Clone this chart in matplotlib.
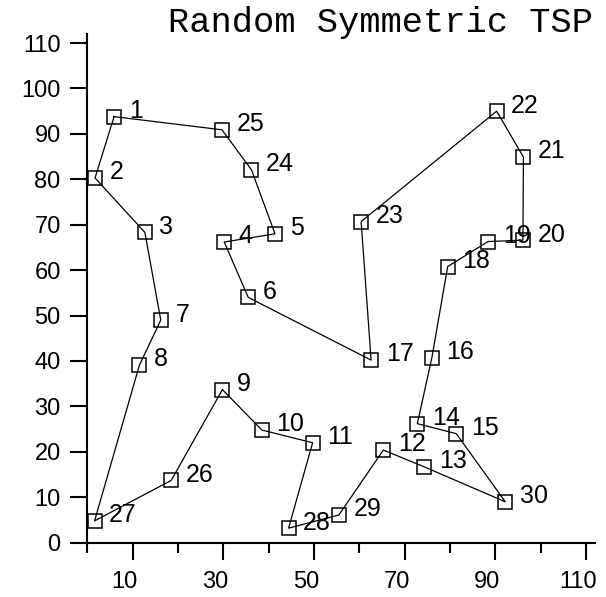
#!/usr/bin/env python3
"""Random symmetric TSP tour plot."""

import matplotlib
matplotlib.use('Agg')
import matplotlib.pyplot as plt
from matplotlib.transforms import ScaledTranslation

# city coordinates, city n is at index n-1
city_x = [5.9, 1.7, 12.7, 30.2, 41.4, 35.5, 16.2, 11.5, 29.8, 38.5,
          49.7, 65.3, 74.3, 72.8, 81.4, 76.0, 62.6, 79.5, 88.4, 96.1,
          96.2, 90.3, 60.4, 36.2, 29.7, 18.5, 1.6, 44.4, 55.5, 92.2]
city_y = [93.8, 80.3, 68.3, 66.2, 68.0, 54.0, 49.0, 39.1, 33.7, 24.8,
          22.0, 20.4, 16.7, 26.2, 24.0, 40.7, 40.2, 60.8, 66.3, 66.6,
          84.9, 95.0, 70.7, 82.1, 90.9, 13.7, 4.8, 3.2, 6.1, 9.0]

# visiting order of the tour
tour = [1, 25, 24, 5, 4, 6, 17, 23, 22, 21, 20, 19, 18, 16, 14, 15,
        30, 13, 12, 29, 28, 11, 10, 9, 26, 27, 8, 7, 3, 2, 1]

x_major = [10, 30, 50, 70, 90, 110]
x_minor = [0, 20, 40, 60, 80, 100]
y_ticks = [0, 10, 20, 30, 40, 50, 60, 70, 80, 90, 100, 110]

title = 'Random Symmetric TSP'


def main():
    fig = plt.figure(figsize=(6.06, 5.97), dpi=100)
    ax = fig.add_axes([0.1441, 0.0910, 0.8378, 0.8521])

    tx = [city_x[c - 1] for c in tour]
    ty = [city_y[c - 1] for c in tour]
    ax.plot(tx, ty, color='black', lw=0.9, clip_on=False, zorder=2)
    ax.plot(city_x, city_y, ls='none', marker='s', ms=10, mfc='none',
            mec='black', mew=1.1, clip_on=False, zorder=3)

    for i, (x, y) in enumerate(zip(city_x, city_y)):
        ax.annotate(str(i + 1), (x, y), xytext=(10.5, -1),
                    textcoords='offset points', ha='left', va='baseline',
                    fontsize=18, family='Liberation Sans', zorder=4,
                    annotation_clip=False)

    ax.set_xlim(0, 112)
    ax.set_ylim(0, 112)
    for side in ('top', 'right'):
        ax.spines[side].set_visible(False)
    for side in ('left', 'bottom'):
        ax.spines[side].set_linewidth(1.5)

    ax.set_xticks(x_major)
    ax.set_xticks(x_minor, minor=True)
    ax.set_yticks(y_ticks)
    ax.tick_params(axis='x', which='major', length=12.2, width=1.5, pad=8,
                   labelsize=17)
    ax.tick_params(axis='x', which='minor', length=7, width=1.5)
    ax.tick_params(axis='y', length=12.2, width=1.5, pad=7, labelsize=17)
    for lab in ax.get_xticklabels() + ax.get_yticklabels():
        lab.set_family('Liberation Sans')

    # x labels sit a little left of their ticks in the original
    shift = ScaledTranslation(-8 / 100, 0, fig.dpi_scale_trans)
    for lab in ax.get_xticklabels():
        lab.set_transform(lab.get_transform() + shift)

    fig.text(593 / 606, 1 - 32 / 597, title, ha='right', va='baseline',
             family='Liberation Mono', fontsize=25.5)

    fig.savefig('out.png', dpi=100)
    plt.close(fig)


if __name__ == '__main__':
    main()
